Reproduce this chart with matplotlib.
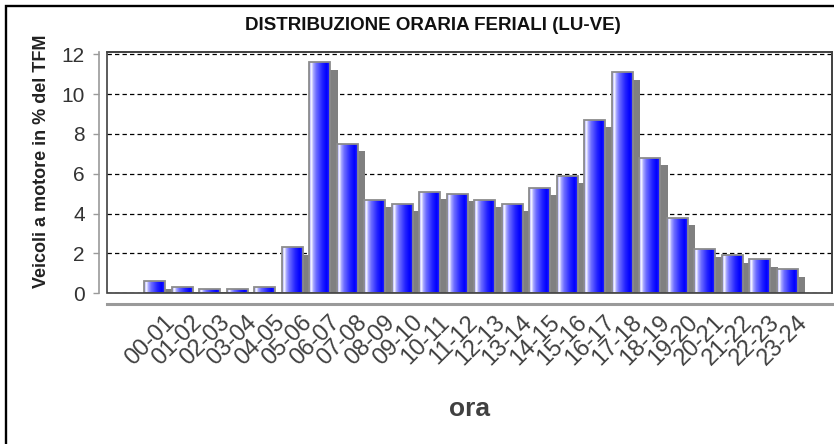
import numpy as np
import matplotlib
matplotlib.use('Agg')
import matplotlib.pyplot as plt
from matplotlib.colors import LinearSegmentedColormap
from matplotlib.patches import Rectangle
from matplotlib.transforms import ScaledTranslation

plt.rcParams['font.family'] = ['Liberation Sans', 'DejaVu Sans']

fasce = ['00-01', '01-02', '02-03', '03-04', '04-05', '05-06', '06-07', '07-08',
         '08-09', '09-10', '10-11', '11-12', '12-13', '13-14', '14-15', '15-16',
         '16-17', '17-18', '18-19', '19-20', '20-21', '21-22', '22-23', '23-24']
quota = [0.6, 0.3, 0.2, 0.2, 0.3, 2.3, 11.6, 7.5, 4.7, 4.5, 5.1, 5.0,
         4.7, 4.5, 5.3, 5.9, 8.7, 11.1, 6.8, 3.8, 2.2, 1.9, 1.7, 1.2]
yticks = [0, 2, 4, 6, 8, 10, 12]

W, H = 834, 444
fig = plt.figure(figsize=(W / 100, H / 100), dpi=100)
ax = fig.add_axes([107 / W, 1 - 293.3 / H, 725 / W, (293.3 - 51.7) / H])

x = np.arange(len(fasce))
bw = 0.76
dx, dy = 0.27, 0.37

# gray "depth" shadow behind each bar
shadow = [max(v - dy, 0.08) for v in quota]
ax.bar(x + dx, shadow, bw, color='#808080', edgecolor='none', zorder=2)

# blue bars with horizontal gradient
cmap = LinearSegmentedColormap.from_list('bluegrad', [
    (0.00, '#8a8aff'), (0.07, '#d8d8ff'), (0.12, '#ffffff'), (0.18, '#b4b4ff'),
    (0.35, '#6a6aff'), (0.65, '#2020ff'), (0.85, '#0000ff'), (1.00, '#2a2aff')])
grad = np.linspace(0, 1, 64).reshape(1, -1)
bars = ax.bar(x, quota, bw, color='none', edgecolor='#8c8c8c', linewidth=1.3, zorder=4)
for b in bars:
    x0, y0 = b.get_x(), b.get_y()
    im = ax.imshow(grad, cmap=cmap, extent=[x0, x0 + b.get_width(), y0, y0 + b.get_height()],
                   aspect='auto', zorder=3, interpolation='bilinear')
    im.set_clip_path(b)

ax.set_xlim(-1.73, 24.62)
ax.set_ylim(0, 12.13)

# grid
ax.set_yticks(yticks)
ax.yaxis.grid(True, color='black', linestyle=(0, (3.5, 2.5)), linewidth=0.9)
ax.set_axisbelow(True)

# box frame
for s in ['top', 'right']:
    ax.spines[s].set_color('#404040')
    ax.spines[s].set_linewidth(1.2)
ax.add_patch(Rectangle((0, 0), 1, 1, transform=ax.transAxes, fill=False,
                       edgecolor='#404040', linewidth=1.2, zorder=5, clip_on=False))

# separated axes
ax.spines['left'].set_position(('outward', 6))
ax.spines['left'].set_color('#9a9a9a')
ax.spines['left'].set_linewidth(1.2)
ax.spines['bottom'].set_position(('outward', 8))
ax.spines['bottom'].set_color('#9a9a9a')
ax.spines['bottom'].set_linewidth(2.2)

ax.tick_params(axis='y', length=4, width=1, color='#9a9a9a', pad=6,
               labelsize=15, labelcolor='#333333')
ax.set_xticks(x)
ax.set_xticklabels(fasce, rotation=45, ha='right', va='top', rotation_mode='anchor',
                   fontsize=17, color='#404040')
ax.tick_params(axis='x', length=0, pad=5)
off = ScaledTranslation(9 / 100, 0, fig.dpi_scale_trans)
for lbl in ax.get_xticklabels():
    lbl.set_transform(lbl.get_transform() + off)

ax.set_ylabel('Veicoli a motore in % del TFM', fontsize=13, fontweight='bold',
              color='#222222')
ax.yaxis.set_label_coords(-0.079, 0.548)
ax.set_xlabel('ora', fontsize=19, fontweight='bold', color='#404040')
ax.xaxis.set_label_coords(0.5, -0.43)

fig.text(433 / W, 1 - 25 / H, 'DISTRIBUZIONE ORARIA FERIALI (LU-VE)', ha='center',
         va='center', fontsize=13.5, fontweight='bold', color='#111111')

# outer frame (cropped on the right and bottom)
fig.add_artist(Rectangle((6.2 / W, -0.1), 1.2, 1.1 - 6.2 / H, transform=fig.transFigure,
                         fill=False, edgecolor='black', linewidth=1.7))

fig.savefig('out.png', dpi=100)
